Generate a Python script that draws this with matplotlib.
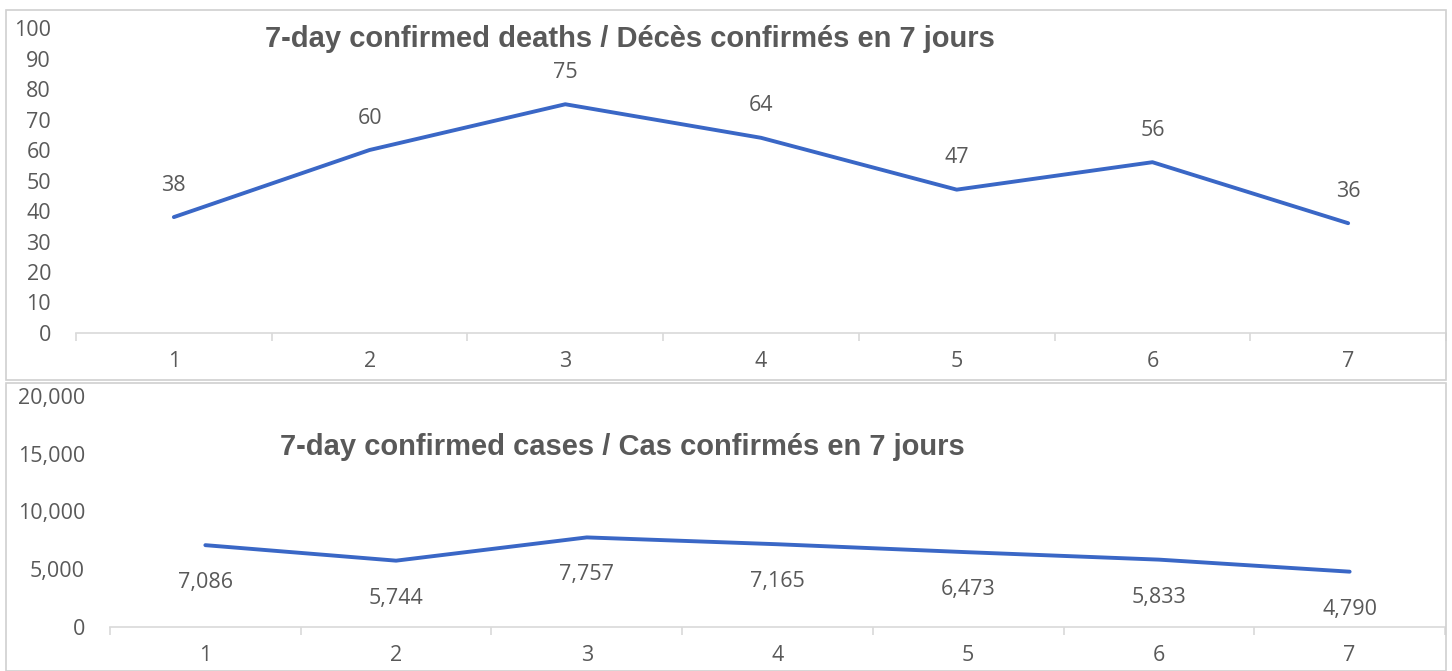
import matplotlib.pyplot as plt
from matplotlib.patches import Rectangle
from matplotlib.ticker import FuncFormatter

days = [1, 2, 3, 4, 5, 6, 7]
deaths = [38, 60, 75, 64, 47, 56, 36]
cases = [7086, 5744, 7757, 7165, 6473, 5833, 4790]

title_deaths = "7-day confirmed deaths / Décès confirmés en 7 jours"
title_cases = "7-day confirmed cases / Cas confirmés en 7 jours"

W, H = 1452, 671
LINE = '#3A67C6'
TXT = '#595959'
GRID = '#D9D9D9'
FS = 15.5

plt.rcParams['font.family'] = ['Open Sans', 'DejaVu Sans']

fig = plt.figure(figsize=(W / 100, H / 100), dpi=100)

# panel frames
for (x0, y0, x1, y1) in [(6, 10, 1446, 380), (6, 383, 1446, 671)]:
    fig.add_artist(Rectangle((x0 / W, 1 - y1 / H), (x1 - x0) / W, (y1 - y0) / H,
                             transform=fig.transFigure, fill=False,
                             edgecolor='#D0D0D0', lw=1.2))


def make_ax(left, right, top, bottom):
    return fig.add_axes([left / W, 1 - bottom / H, (right - left) / W, (bottom - top) / H])


def style(ax):
    for s in ['top', 'right', 'left']:
        ax.spines[s].set_visible(False)
    ax.spines['bottom'].set_color(GRID)
    ax.spines['bottom'].set_linewidth(1.2)
    ax.set_xlim(0.5, 7.5)
    ax.set_xticks(days)
    ax.set_xticks([i + 0.5 for i in range(0, 8)], minor=True)
    ax.tick_params(axis='x', which='major', length=0, labelsize=FS, labelcolor=TXT, pad=13)
    ax.tick_params(axis='x', which='minor', length=6, color=GRID, width=1.2)
    ax.tick_params(axis='y', length=0, labelsize=FS, labelcolor=TXT, pad=18)


# top: deaths
ax1 = make_ax(76, 1446, 28, 333)
ax1.plot(days, deaths, color=LINE, lw=2.8, solid_capstyle='round')
ax1.set_ylim(0, 100)
ax1.set_yticks(range(0, 101, 10))
style(ax1)
for x, v in zip(days, deaths):
    ax1.annotate(str(v), (x, v), xytext=(0, 23), textcoords='offset points',
                 ha='center', va='center', fontsize=FS, color=TXT)
fig.text(265 / W, 1 - 39 / H, title_deaths, ha='left', va='center',
         fontsize=21, fontweight='bold', color=TXT, family='Liberation Sans')

# bottom: cases
ax2 = make_ax(110, 1445, 396, 627)
ax2.plot(days, cases, color=LINE, lw=2.8, solid_capstyle='round')
ax2.set_ylim(0, 20000)
ax2.set_yticks(range(0, 20001, 5000))
ax2.yaxis.set_major_formatter(FuncFormatter(lambda v, p: f'{int(v):,}'))
style(ax2)
for x, v in zip(days, cases):
    ax2.annotate(f'{v:,}', (x, v), xytext=(0, -27), textcoords='offset points',
                 ha='center', va='center', fontsize=FS, color=TXT)
fig.text(280 / W, 1 - 447 / H, title_cases, ha='left', va='center',
         fontsize=21, fontweight='bold', color=TXT, family='Liberation Sans')

fig.savefig('out.png', dpi=100)
